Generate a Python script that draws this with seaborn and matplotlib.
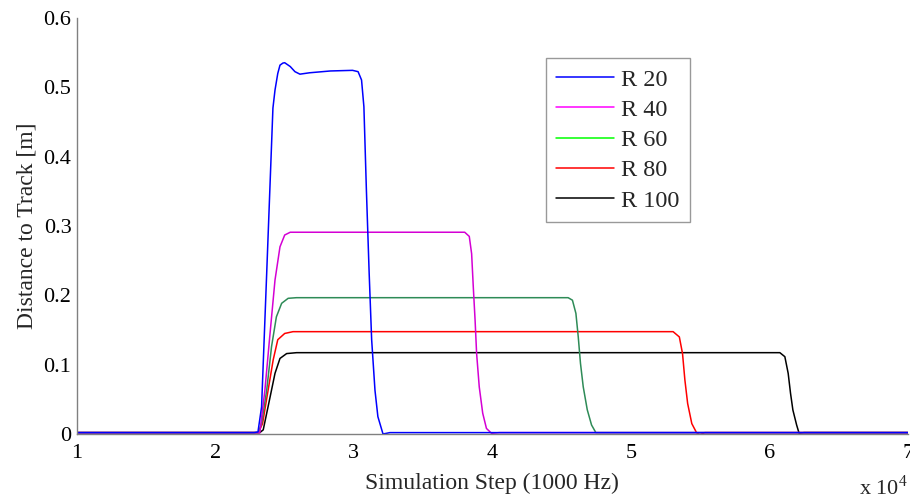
import numpy as np
import pandas as pd
import matplotlib
matplotlib.use('Agg')
import matplotlib.pyplot as plt
from matplotlib.lines import Line2D
import seaborn as sns

# =============================================================================
# values (x in units of 10^4 simulation steps, y in m)
# =============================================================================
series_names = ['R 20', 'R 40', 'R 60', 'R 80', 'R 100']

r20_x = [1.0, 2.28, 2.307, 2.333, 2.37, 2.415, 2.43, 2.45, 2.466, 2.487, 2.50,
         2.54, 2.574, 2.61, 2.68, 2.83, 2.99, 3.03, 3.055, 3.072, 3.09, 3.11,
         3.128, 3.152, 3.173, 3.21, 3.26, 3.40, 7.0]
r20_y = [0.002, 0.002, 0.003, 0.039, 0.232, 0.470, 0.496, 0.520, 0.532, 0.535,
         0.5355, 0.530, 0.5226, 0.519, 0.521, 0.5236, 0.5245, 0.5226, 0.5106,
         0.472, 0.352, 0.232, 0.136, 0.063, 0.025, 0.000, 0.002, 0.002, 0.002]

r40_x = [1.0, 2.30, 2.32, 2.357, 2.39, 2.43, 2.466, 2.50, 2.54, 3.0, 3.80,
         3.833, 3.85, 3.862, 3.875, 3.886, 3.905, 3.93, 3.957, 3.994, 4.05, 7.0]
r40_y = [0.002, 0.002, 0.0015, 0.063, 0.136, 0.222, 0.270, 0.287, 0.291, 0.291,
         0.291, 0.285, 0.260, 0.212, 0.164, 0.116, 0.068, 0.030, 0.008, 0.001,
         0.002, 0.002]

r60_x = [1.0, 2.31, 2.333, 2.37, 2.405, 2.44, 2.478, 2.525, 2.585, 4.547,
         4.578, 4.603, 4.62, 4.636, 4.656, 4.685, 4.716, 4.747, 4.80, 7.0]
r60_y = [0.002, 0.002, 0.015, 0.063, 0.126, 0.169, 0.1885, 0.1957, 0.1966,
         0.1966, 0.193, 0.174, 0.140, 0.102, 0.068, 0.035, 0.013, 0.002, 0.002,
         0.002]

r80_x = [1.0, 2.31, 2.34, 2.38, 2.417, 2.45, 2.50, 2.56, 5.305, 5.35, 5.373,
         5.39, 5.41, 5.44, 5.474, 5.498, 5.534, 7.0]
r80_y = [0.002, 0.002, 0.015, 0.063, 0.107, 0.136, 0.145, 0.1476, 0.1476,
         0.140, 0.116, 0.078, 0.044, 0.015, 0.002, -0.001, 0.002, 0.002]

r100_x = [1.0, 2.32, 2.345, 2.39, 2.43, 2.466, 2.514, 2.586, 6.076, 6.112,
          6.136, 6.153, 6.17, 6.197, 6.215, 6.25, 7.0]
r100_y = [0.002, 0.002, 0.006, 0.049, 0.0875, 0.109, 0.116, 0.1173, 0.1173,
          0.1115, 0.0875, 0.0587, 0.0346, 0.013, 0.001, 0.002, 0.002]

x_ticks = [1, 2, 3, 4, 5, 6, 7]
y_ticks = [0, 0.1, 0.2, 0.3, 0.4, 0.5, 0.6]
y_tick_labels = ['0', '0.1', '0.2', '0.3', '0.4', '0.5', '0.6']

line_colors = ['#0000ff', '#d400d4', '#2e8b57', '#ff0000', '#000000']
legend_colors = ['#0000ff', '#ff00ff', '#00ff00', '#ff0000', '#000000']

# long-form table for seaborn
frames = []
for name, xs, ys in zip(series_names,
                        [r20_x, r40_x, r60_x, r80_x, r100_x],
                        [r20_y, r40_y, r60_y, r80_y, r100_y]):
    frames.append(pd.DataFrame({'step': xs, 'dist': ys, 'series': name}))
data = pd.concat(frames, ignore_index=True)

# =============================================================================
# plot
# =============================================================================
sns.set_style('white')
plt.rcParams['font.family'] = ['Liberation Serif', 'DejaVu Serif']
plt.rcParams['mathtext.fontset'] = 'custom'
plt.rcParams['mathtext.rm'] = 'Liberation Serif'

fig = plt.figure(figsize=(9.1, 5.0), dpi=100)
ax = fig.add_axes([0.0846, 0.132, 0.913, 0.832])

# reverse order so blue is drawn on top, like the reference
sns.lineplot(data=data, x='step', y='dist', hue='series',
             hue_order=series_names[::-1], palette=line_colors[::-1],
             estimator=None, sort=False, linewidth=1.1, legend=False, ax=ax)

ax.set_xlim(1, 7)
ax.set_ylim(0, 0.6)
ax.set_xticks(x_ticks)
ax.set_xticklabels([str(t) for t in x_ticks])
ax.set_yticks(y_ticks)
ax.set_yticklabels(y_tick_labels)
ax.tick_params(axis='both', direction='in', length=5, width=0.8,
               color='#555555', labelsize=16, labelcolor='black')
ax.tick_params(axis='x', pad=7)
ax.tick_params(axis='y', pad=4)

for side in ['top', 'right']:
    ax.spines[side].set_visible(False)
for side in ['left', 'bottom']:
    ax.spines[side].set_color('#808080')
    ax.spines[side].set_linewidth(1.0)

ax.set_xlabel('Simulation Step (1000 Hz)', fontsize=17, labelpad=7)
ax.set_ylabel('Distance to Track [m]', fontsize=17, labelpad=4)

fig.text(0.997, 0.0, 'x 10$^4$', ha='right', va='bottom', fontsize=16)

handles = [Line2D([0], [0], color=c, linewidth=1.1) for c in legend_colors]
leg = ax.legend(handles, series_names, loc='upper left',
                bbox_to_anchor=(0.564, 0.903), fontsize=17.5, frameon=True,
                fancybox=False, handlelength=2.4, handletextpad=0.3,
                labelspacing=0.34, borderpad=0.42, borderaxespad=0)
leg.get_frame().set_edgecolor('#808080')
leg.get_frame().set_linewidth(1.0)

fig.savefig('out.png', dpi=100)
